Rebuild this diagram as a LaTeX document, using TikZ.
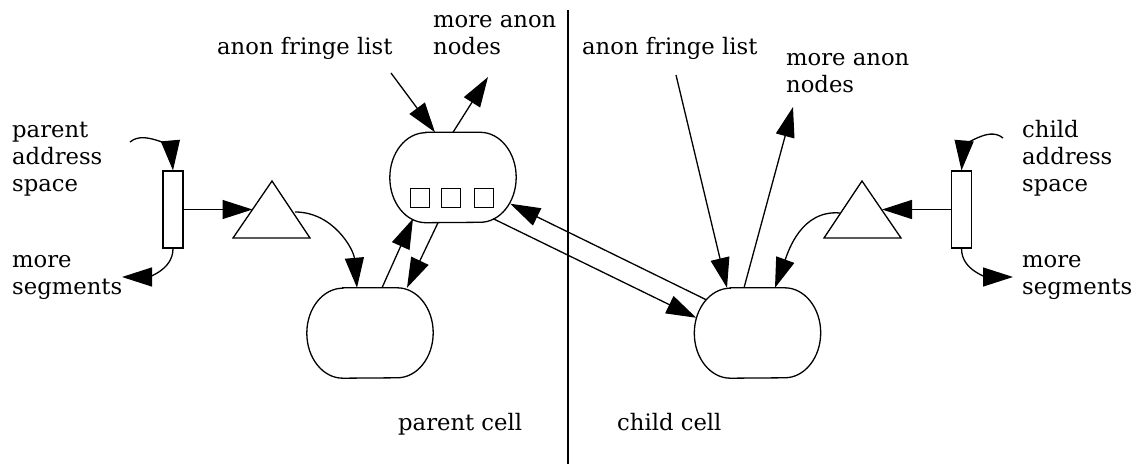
\documentclass[tikz,border=0pt]{standalone}
\usepackage{fontspec}
\setmainfont{DejaVu Serif}
\usetikzlibrary{arrows.meta,calc}
\begin{document}
\begin{tikzpicture}[x=1pt,y=1pt,
  lbl/.style={anchor=base west, inner sep=0pt, align=left, font=\fontsize{22.7}{27}\selectfont},
  cell/.style={minimum width=126pt, minimum height=90pt, inner sep=0pt},
  cellline/.style={line width=1.3pt},
  seg/.style={draw, line width=1.1pt, minimum width=20pt, minimum height=77pt, inner sep=0pt},
  sq/.style={draw, line width=1.2pt, minimum size=19pt, inner sep=0pt},
  tri/.style={draw, line width=1.3pt, line join=miter},
  arr/.style={line width=1.3pt, -{Triangle[length=30pt,width=19pt]}},
]
\useasboundingbox (0,0) rectangle (1138,464);
% divider
\draw[line width=2.6pt] (568,454) -- (568,0);
% labels (anchor = baseline of last line)
\node[lbl] (pas) at (12,272) {parent\\address\\space};
\node[lbl] (lms) at (12,169) {more\\segments};
\node[lbl] (lafl) at (217,409) {anon fringe list};
\node[lbl] (lman) at (433,409) {more anon\\nodes};
\node[lbl] (rafl) at (582,409) {anon fringe list};
\node[lbl] (rman) at (786,371) {more anon\\nodes};
\node[lbl] (cas) at (1022,272) {child\\address\\space};
\node[lbl] (rms) at (1022,169) {more\\segments};
\node[lbl] (pcl) at (398,34) {parent cell};
\node[lbl] (ccl) at (617,34) {child cell};
% cells
\node[cell] (uc) at (453,286.5) {};
\node[cell] (lc) at (370,131) {};
\node[cell] (rc) at (757.5,131) {};
\foreach \c in {uc,lc,rc}{
  \draw[cellline] ($(\c.north west)+(36,0)$) -- ($(\c.north east)+(-36,0)$)
    arc[start angle=90,end angle=-90,x radius=36,y radius=45]
    -- ($(\c.south west)+(36,0)$)
    arc[start angle=270,end angle=90,x radius=36,y radius=45] -- cycle;
}
\node[sq] (s1) at (420,266) {};
\node[sq] (s2) at (451,266) {};
\node[sq] (s3) at (484,266) {};
% segments
\node[seg] (lseg) at (173,254.5) {};
\node[seg] (rseg) at (961.5,254.5) {};
% triangles
\draw[tri] (272,283) -- (233,226) -- (310,226) -- cycle;
\draw[tri] (862,283) -- (824,226) -- (901,226) -- cycle;
\coordinate (ltl) at (252.5,254.5);
\coordinate (ltr) at (295,252);
\coordinate (rtr) at (882,254.5);
\coordinate (rtl) at (840,251);
% free ends
\coordinate (f1) at (391,391);
\coordinate (f2) at (488,387);
\coordinate (f3) at (676,389);
\coordinate (f4) at (793,357);
\coordinate (f5) at (130,322);
\coordinate (f6) at (122,187);
\coordinate (f7) at (1003,326);
\coordinate (f8) at (1013,187);
% arrows
\draw[arr] (f1) -- ($(uc.north)+(-18,0)$);
\draw[arr] (uc.north) -- (f2);
\draw[arr] ($(lc.north)+(12,0)$) -- ($(uc.south)+(-40,4)$);
\draw[arr] ($(uc.south)+(-15,0)$) -- ($(lc.north)+(37,0)$);
\draw[arr] ($(rc.north west)+(12,-12)$) -- ($(uc.south east)+(-6,19)$);
\draw[arr] ($(uc.south east)+(-23,4)$) -- ($(rc.north west)+(2,-30)$);
\draw[arr] (f3) -- ($(rc.north)+(-30.5,0)$);
\draw[arr] ($(rc.north)+(-13.5,0)$) -- (f4);
\draw[arr] (rtl) to[out=175,in=70] ($(rc.north)+(17.5,0)$);
\draw[arr] (ltr) to[out=0,in=95] ($(lc.north)+(-13,0)$);
\draw[arr] (lseg.east) -- (ltl);
\draw[arr] (rseg.west) -- (rtr);
\draw[arr] (f5) to[out=40,in=95] (lseg.north);
\draw[arr] (lseg.south) to[out=-90,in=0] (f6);
\draw[arr] (f7) to[out=140,in=85] (rseg.north);
\draw[arr] (rseg.south) to[out=-90,in=180] (f8);
\end{tikzpicture}
\end{document}
